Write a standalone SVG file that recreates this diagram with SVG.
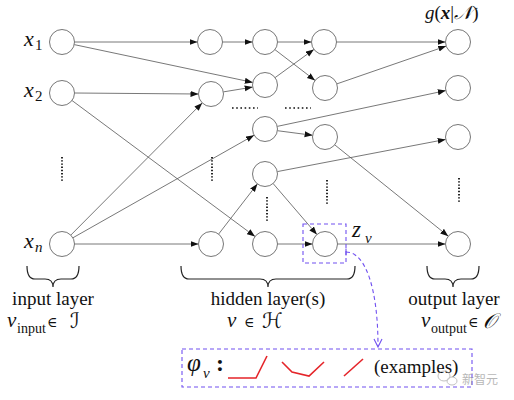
<svg xmlns="http://www.w3.org/2000/svg" width="514" height="400" viewBox="0 0 514 400">
<defs>
<marker id="ah" markerUnits="userSpaceOnUse" markerWidth="9" markerHeight="7" refX="8" refY="3" orient="auto">
<path d="M0,0 L8,3 L0,6 z" fill="#111"/>
</marker>
<style>
.n{fill:#fff;stroke:#666;stroke-width:0.9}
.e{stroke:#555;stroke-width:0.8;fill:none;marker-end:url(#ah)}
.dv{stroke:#111;stroke-width:1.8;stroke-dasharray:1.4 1.8}
.dh{stroke:#111;stroke-width:1.6;stroke-dasharray:1.6 2.6}
.t{font-family:"Liberation Serif","DejaVu Serif",serif;fill:#111}
.i{font-style:italic}
.br{fill:none;stroke:#222;stroke-width:1.2}
.pd{fill:none;stroke:#7050f0;stroke-width:1.1;stroke-dasharray:4 3}
.red{fill:none;stroke:#e5252a;stroke-width:1.6}
.m{font-family:"DejaVu Serif","DejaVu Sans",serif;fill:#111}
</style>
</defs>
<g id="connectors">
<line class="e" x1="74.5" y1="42" x2="197.5" y2="42"/>
<line class="e" x1="74.2" y1="44.6" x2="252.8" y2="82.4"/>
<line class="e" x1="74.5" y1="93" x2="198.5" y2="94"/>
<line class="e" x1="72" y1="100.5" x2="255" y2="236.5"/>
<line class="e" x1="70.8" y1="235.1" x2="202.2" y2="102.9"/>
<line class="e" x1="72.9" y1="237.8" x2="254.1" y2="135.2"/>
<line class="e" x1="74.5" y1="244" x2="198.5" y2="244"/>
<line class="e" x1="222.5" y1="42" x2="252.5" y2="42"/>
<line class="e" x1="223.3" y1="91.9" x2="252.7" y2="87.1"/>
<line class="e" x1="218.6" y1="234.1" x2="257.4" y2="183.9"/>
<line class="e" x1="277.5" y1="42" x2="311.5" y2="42"/>
<line class="e" x1="274.9" y1="49.6" x2="315.1" y2="80.4"/>
<line class="e" x1="275.1" y1="77.6" x2="313.9" y2="49.4"/>
<line class="e" x1="277.4" y1="130.7" x2="312.6" y2="135.3"/>
<line class="e" x1="277.2" y1="126.4" x2="445.8" y2="90.6"/>
<line class="e" x1="277.3" y1="171.6" x2="445.7" y2="139.4"/>
<line class="e" x1="273.1" y1="183.5" x2="316.9" y2="234.5"/>
<line class="e" x1="277.5" y1="244" x2="312.5" y2="244"/>
<line class="e" x1="336.5" y1="42" x2="445.5" y2="42"/>
<line class="e" x1="336.8" y1="83.9" x2="446.2" y2="46.1"/>
<line class="e" x1="334.7" y1="144.8" x2="448.3" y2="236.2"/>
<line class="e" x1="337.5" y1="244" x2="445.5" y2="244"/>
<path class="pd" d="M346,252 C366,252 378,290 378,346"/>
<line x1="346" y1="248.5" x2="346" y2="255.5" stroke="#7050f0" stroke-width="1.1"/>
<path d="M374,339 L378,347 L382,339" fill="none" stroke="#7050f0" stroke-width="1.1"/>
</g>
<g id="input-layer">
<circle class="n" cx="62" cy="42" r="12.5"/>
<circle class="n" cx="62" cy="93" r="12.5"/>
<circle class="n" cx="62" cy="244" r="12.5"/>
<line class="dv" x1="62" y1="157" x2="62" y2="182"/>
<text class="t i" x="24" y="46" font-size="22">x</text><text class="t" x="35" y="50" font-size="15">1</text>
<text class="t i" x="24" y="97" font-size="22">x</text><text class="t" x="35" y="101" font-size="15">2</text>
<text class="t i" x="24" y="248" font-size="22">x</text><text class="t i" x="35" y="252" font-size="15">n</text>
</g>
<g id="hidden-layer">
<circle class="n" cx="210" cy="42" r="12.5"/>
<circle class="n" cx="211" cy="94" r="12.5"/>
<circle class="n" cx="211" cy="244" r="12.5"/>
<circle class="n" cx="265" cy="42" r="12.5"/>
<circle class="n" cx="265" cy="85" r="12.5"/>
<circle class="n" cx="265" cy="129" r="12.5"/>
<circle class="n" cx="265" cy="174" r="12.5"/>
<circle class="n" cx="265" cy="244" r="12.5"/>
<circle class="n" cx="324" cy="42" r="12.5"/>
<circle class="n" cx="325" cy="88" r="12.5"/>
<circle class="n" cx="325" cy="137" r="12.5"/>
<circle class="n" cx="325" cy="244" r="12.5"/>
<line class="dv" x1="212" y1="157" x2="212" y2="182"/>
<line class="dv" x1="267" y1="197" x2="267" y2="222"/>
<line class="dv" x1="327" y1="180" x2="327" y2="204"/>
<line class="dh" x1="232" y1="108" x2="258" y2="108"/>
<line class="dh" x1="285" y1="108" x2="311" y2="108"/>
<rect class="pd" x="303" y="224" width="43" height="39"/>
<text class="t i" x="352" y="237" font-size="23">z</text><text class="t i" x="365" y="243" font-size="15">v</text>
</g>
<g id="output-layer">
<circle class="n" cx="458" cy="42" r="12.5"/>
<circle class="n" cx="458" cy="88" r="12.5"/>
<circle class="n" cx="458" cy="137" r="12.5"/>
<circle class="n" cx="458" cy="244" r="12.5"/>
<line class="dv" x1="459" y1="178" x2="459" y2="203"/>
<text class="t" x="425" y="19" font-size="19"><tspan class="i">g</tspan>(<tspan font-weight="bold" font-style="italic">x</tspan>|<tspan class="i">𝒩</tspan>)</text>
</g>
<g id="braces">
<path class="br" d="M27,266 Q27,279 35,279 L45,279 Q53,279 53,287 Q53,279 61,279 L71,279 Q79,279 79,266"/>
<path class="br" d="M181,266 Q181,279 189,279 L260,279 Q268,279 268,287 Q268,279 276,279 L347,279 Q355,279 355,266"/>
<path class="br" d="M427,266 Q427,279 435,279 L445,279 Q453,279 453,287 Q453,279 461,279 L471,279 Q479,279 479,266"/>
</g>
<g id="labels">
<text class="t" x="53" y="305" font-size="19" text-anchor="middle">input layer</text>
<text class="t i" x="7" y="327" font-size="21">v</text><text class="t" x="17" y="333" font-size="14">input</text>
<text class="m" x="47" y="327" font-size="14">∈</text><text class="m i" x="70" y="328" font-size="21">ℐ</text>
<text class="t" x="268" y="305" font-size="19" text-anchor="middle">hidden layer(s)</text>
<text class="t i" x="227" y="327" font-size="21">v</text><text class="m" x="244" y="327" font-size="14">∈</text><text class="m i" x="262" y="328" font-size="21">ℋ</text>
<text class="t" x="454" y="305" font-size="19" text-anchor="middle">output layer</text>
<text class="t i" x="421" y="327" font-size="21">v</text><text class="t" x="431" y="333" font-size="14">output</text>
<text class="m" x="468" y="327" font-size="14">∈</text><text class="m i" x="483" y="328" font-size="21">𝒪</text>
</g>
<g id="activation-box">
<rect class="pd" x="182" y="349" width="290" height="38"/>
<text class="t i" x="187" y="371" font-size="25">φ</text><text class="t i" x="203" y="378" font-size="15">v</text>
<text class="t" x="216" y="371" font-size="24" font-weight="bold">:</text>
<path class="red" d="M228,378 L256,378 L267,356"/>
<path class="red" d="M282,362 L292,372 L309,376 L324,362"/>
<path class="red" d="M344,376 L363,359"/>
<text class="t" x="374" y="373" font-size="19">(examples)</text>
</g>
<g id="watermark" opacity="0.6">
<ellipse cx="444" cy="376" rx="6" ry="5" fill="none" stroke="#999" stroke-width="1"/>
<ellipse cx="452" cy="381" rx="5" ry="4" fill="none" stroke="#999" stroke-width="1"/>
<text x="462" y="384" font-size="12" fill="#888" font-family="'Noto Sans CJK SC',sans-serif">新智元</text>
</g>
</svg>
